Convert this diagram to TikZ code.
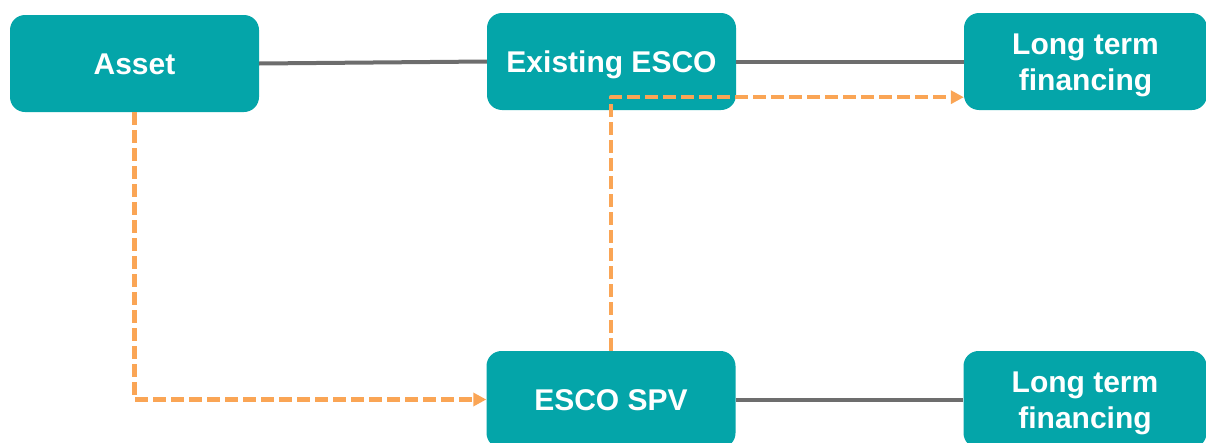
\documentclass[tikz,border=0pt]{standalone}
\usepackage{fontspec}
\setmainfont{Liberation Sans}
\usetikzlibrary{arrows.meta}
\definecolor{boxteal}{HTML}{04A5A9}
\definecolor{flowgray}{HTML}{6D6D6D}
\definecolor{flowora}{HTML}{FAA555}
\begin{document}
\begin{tikzpicture}[x=1pt,y=-1pt,line join=round]
		\tikzset{entity/.style={fill=boxteal,rounded corners=15pt,minimum width=249pt,minimum height=97pt,inner sep=0pt,
				text height=21.5pt,text depth=0pt,text=white,align=center,font=\bfseries\fontsize{30}{36}\selectfont},
			twoline/.style={minimum width=243pt,text height=57.5pt},
			link/.style={draw=flowgray,line width=4pt},
			newflow/.style={draw=flowora,line width=4.5pt,dash pattern=on 13pt off 5pt,
				-{Triangle[length=13pt,width=13pt,fill=flowora]}}}
		\useasboundingbox (0,0) rectangle (1206,442);
		\clip (0,0) rectangle (1206,442);
		\node[entity] (asset) at (134.5,63.5) {Asset};
		\node[entity] (esco) at (611.5,61.5) {Existing ESCO};
		\node[entity,twoline] (ltfTop) at (1085.5,61.5) {Long term\\financing};
		\node[entity] (spv) at (611,399.5) {ESCO SPV};
		\node[entity,twoline] (ltfBottom) at (1085,399.5) {Long term\\financing};
		\draw[link] (asset.east) -- (esco.west);
		\draw[link] (esco.east) -- (ltfTop.west);
		\draw[link] (spv.east) -- (ltfBottom.west);
		\draw[newflow] (asset.south) |- (spv.west);
		\draw[newflow] (spv.north) |- ([yshift=13pt]ltfTop.south west);
	\end{tikzpicture}
\end{document}
